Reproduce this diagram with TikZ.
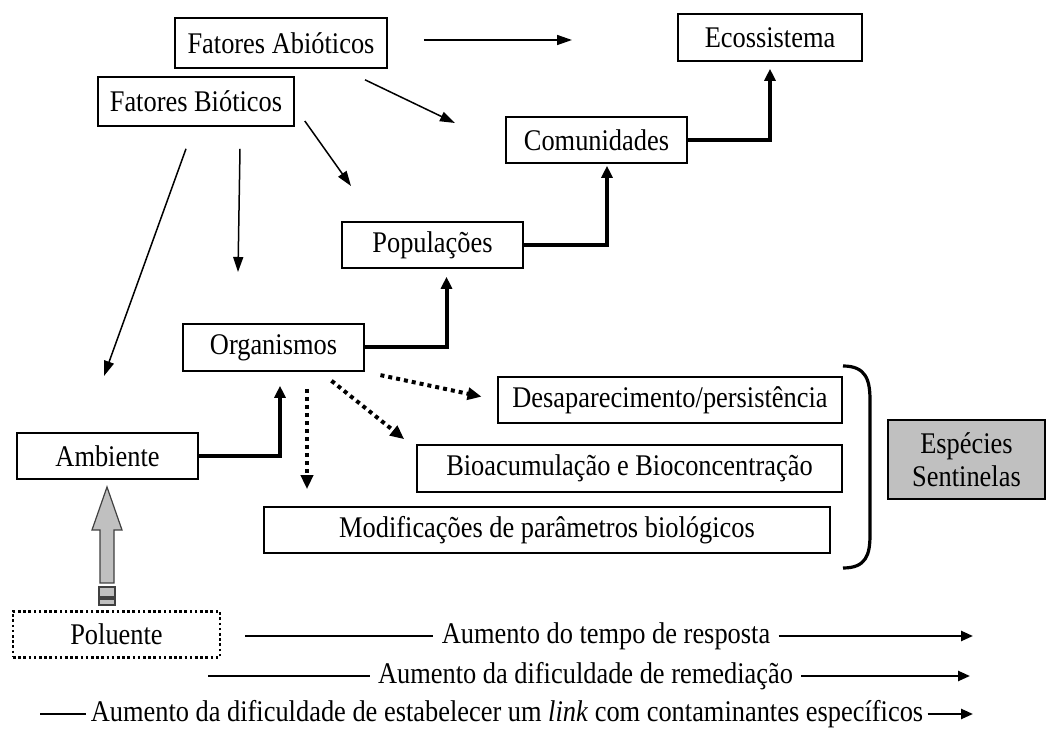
\documentclass[tikz,border=0pt]{standalone}
\usepackage{fontspec}
\setmainfont{Liberation Serif}[FakeStretch=0.88]
\usetikzlibrary{arrows.meta,calc}
\definecolor{sentgray}{HTML}{C0C0C0}

\begin{document}
\begin{tikzpicture}[x=0.5pt,y=-0.5pt,
    every node/.style={font=\fontsize{15}{16.5}\selectfont},
    box/.style={draw,line width=0.8pt,inner sep=0pt,minimum height=23pt},
    arr/.style={line width=0.75pt,-{Triangle[length=7.5pt,width=5pt]}},
    up/.style={line width=2pt,-{Triangle[length=6pt,width=5.5pt]}},
    dots/.style={line width=2pt,dash pattern=on 2pt off 2pt,-{Triangle[length=7pt,width=6pt]}},
    row/.style={line width=1.2pt},
    rowarr/.style={row,-{Triangle[length=6pt,width=5pt]}},
]
\useasboundingbox (0,0) rectangle (1046,731);

% levels
\node[box,minimum width=106pt,minimum height=25pt] (abio) at (281,43) {Fatores Abióticos};
\node[box,minimum width=98pt,minimum height=24.5pt] (bio) at (196,101.5) {Fatores Bióticos};
\node[box,minimum width=92pt,minimum height=23.5pt] (eco) at (770,37.5) {Ecossistema};
\node[box,minimum width=90.5pt] (com) at (596.5,140) {Comunidades};
\node[box,minimum width=90.5pt] (pop) at (432.5,245) {Populações};
\node[box,minimum width=90.5pt,minimum height=23.5pt] (org) at (273.5,347.5) {Organismos};
\node[box,minimum width=90.5pt] (amb) at (107.5,456) {Ambiente};

% responses
\node[box,minimum width=172pt] (des) at (670,400) {Desaparecimento/persistência};
\node[box,minimum width=212.5pt,minimum height=23.5pt] (bioac) at (629.5,468.5) {Bioacumulação e Bioconcentração};
\node[box,minimum width=283pt] (mod) at (547,530) {Modificações de parâmetros biológicos};
\node[box,fill=sentgray,align=center,line width=1pt,minimum width=78.5pt,minimum height=39.5pt] (sent) at (966.5,459.5) {Espécies\\Sentinelas};
\node[box,line width=1.3pt,dash pattern=on 1.3pt off 1.3pt,minimum width=103.5pt] (pol) at (116.5,634.5) {Poluente};

% free ends
\coordinate (f1) at (572,40);
\coordinate (f2) at (455,123);
\coordinate (f3) at (104,376);
\coordinate (f4) at (238,272);
\coordinate (f5) at (351,186);

\draw[arr] ($(abio.east)+(36,-3)$) -- (f1);
\draw[arr] ($(abio.south)+(84,11)$) -- (f2);
\draw[arr] ($(bio.south)+(-10,22)$) -- (f3);
\draw[arr] ($(bio.south)+(44,22)$) -- (f4);
\draw[arr] ($(bio.east)+(10,19.5)$) -- (f5);

\draw[up,shorten >=4pt] (org.east) -| ([xshift=7pt]pop.south);
\draw[up,shorten >=1pt] (pop.east) -| ([xshift=5.25pt]com.south);
\draw[up,shorten >=3.5pt] (com.east) -| (eco.south);
\draw[up,shorten >=7pt] (amb.east) -| ([xshift=3.25pt]org.south);

\draw[dots,shorten <=8pt,shorten >=8pt] (org.south east) -- (des.west);
\draw[dots] ($(org.south)+(58,9)$) -- ($(bioac.north west)+(-12,-5)$);
\draw[dots] ($(org.south)+(33.5,17)$) -- ($(mod.north)+(-240,-17)$);

% gray arrow
\draw[fill=sentgray,draw=black!75,line width=0.6pt]
  (100,583) -- (100,530) -- (92,530) -- (107,487) -- (122,530) -- (114,530) -- (114,583) -- cycle;
\draw[fill=sentgray,draw=black!75,line width=0.6pt]
  (99,587) rectangle (115,597) (99,599) rectangle (115,605);

% bracket
\draw[line width=1.6pt] (843,366) .. controls (866,366) and (870,380) .. (870,400)
  -- (870,535) .. controls (870,555) and (866,568) .. (843,568);

% bottom rows
\node[inner xsep=4pt] (r1) at (606,636) {Aumento do tempo de resposta};
\node[inner xsep=4pt] (r2) at (585.5,676) {Aumento da dificuldade de remediação};
\node[inner xsep=2pt] (r3) at (507,714) {Aumento da dificuldade de estabelecer um \textit{link} com contaminantes específicos};
\coordinate (r1a) at (245,636);
\coordinate (r1b) at (973,636);
\coordinate (r2a) at (208,676);
\coordinate (r2b) at (970,676);
\coordinate (r3a) at (40,714);
\coordinate (r3b) at (973,714);
\draw[row] (r1a) -- (r1.west);
\draw[rowarr] (r1.east) -- (r1b);
\draw[row] (r2a) -- (r2.west);
\draw[rowarr] (r2.east) -- (r2b);
\draw[row] (r3a) -- (r3.west);
\draw[rowarr] (r3.east) -- (r3b);
\end{tikzpicture}
\end{document}
